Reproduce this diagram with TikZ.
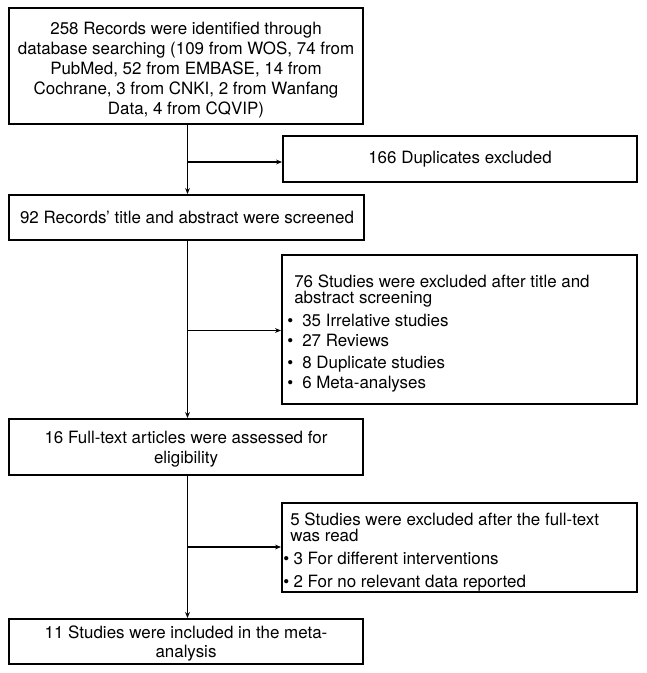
\documentclass[tikz,border=0pt]{standalone}
\usepackage{fontspec}
\setmainfont{TeX Gyre Heros}
\usetikzlibrary{arrows.meta,fit}
\begin{document}
\begin{tikzpicture}[x=0.75pt,y=-0.75pt,
  box/.style={draw, line width=1.4pt, inner sep=0pt},
  txt/.style={inner sep=0pt, text height=9.1pt, text depth=0pt, font=\fontsize{12.7}{15}\selectfont},
  conn/.style={line width=1.1pt, -{Stealth[length=4.5pt,width=3.6pt]}}]
\useasboundingbox (0,0) rectangle (646,673);
% boxes
\node[box, fit={(9,8) (363,124)}] (b1) {};
\node[box, fit={(283,136) (637,182)}] (b2) {};
\node[box, fit={(9,195) (364,240)}] (b3) {};
\node[box, fit={(282,255) (637,404)}] (b4) {};
\node[box, fit={(9,419) (363,475)}] (b5) {};
\node[box, fit={(282,503) (637,592)}] (b6) {};
\node[box, fit={(9,619) (363,664)}] (b7) {};
% texts box 1
\node[txt] (t1a) at (186,28.3) {258 Records were identified through};
\node[txt] (t1b) at (186,48.3) {database searching (109 from WOS, 74 from};
\node[txt] (t1c) at (186,68.3) {PubMed, 52 from EMBASE, 14 from};
\node[txt] (t1d) at (186,88.3) {Cochrane, 3 from CNKI, 2 from Wanfang};
\node[txt] (t1e) at (186,108.3) {Data, 4 from CQVIP)};
% box 2
\node[txt] (t2) at (460,157) {166 Duplicates excluded};
% box 3
\node[txt] (t3) at (187,217.5) {92 Records’ title and abstract were screened};
% box 4
\node[txt, anchor=west] (t4a) at (294,281) {76 Studies were excluded after title and};
\node[txt, anchor=west] (t4b) at (294,297) {abstract screening};
\node[txt, anchor=west] (t4c) at (287,320.7) {\makebox[11.25pt][l]{•}35 Irrelative studies};
\node[txt, anchor=west] (t4d) at (287,340.5) {\makebox[11.25pt][l]{•}27 Reviews};
\node[txt, anchor=west] (t4e) at (287,362) {\makebox[11.25pt][l]{•}8 Duplicate studies};
\node[txt, anchor=west] (t4f) at (287,382) {\makebox[11.25pt][l]{•}6 Meta-analyses};
% box 5
\node[txt] (t5a) at (186,437.5) {16 Full-text articles were assessed for};
\node[txt] (t5b) at (186,457.5) {eligibility};
% box 6
\node[txt, anchor=west] (t6a) at (290,519) {5 Studies were excluded after the full-text};
\node[txt, anchor=west] (t6b) at (290,535.7) {was read};
\node[txt, anchor=west] (t6c) at (283,558.3) {\makebox[7.7pt][l]{•}3 For different interventions};
\node[txt, anchor=west] (t6d) at (283,581) {\makebox[7.7pt][l]{•}2 For no relevant data reported};
% box 7
\node[txt] (t7a) at (186,632) {11 Studies were included in the meta-};
\node[txt] (t7b) at (186,651) {analysis};
% connectors
\coordinate (mx) at (187.5,0);
\coordinate (j1) at (187.5,162);
\coordinate (j2) at (187.5,330.5);
\coordinate (j3) at (187.5,547);
\draw[conn] (b1.south -| mx) -- (b3.north -| mx);
\draw[conn] (j1) -- (j1 -| b2.west);
\draw[conn] (b3.south -| mx) -- (b5.north -| mx);
\draw[conn] (j2) -- (j2 -| b4.west);
\draw[conn] (b5.south -| mx) -- (b7.north -| mx);
\draw[conn] (j3) -- (j3 -| b6.west);
\end{tikzpicture}
\end{document}
